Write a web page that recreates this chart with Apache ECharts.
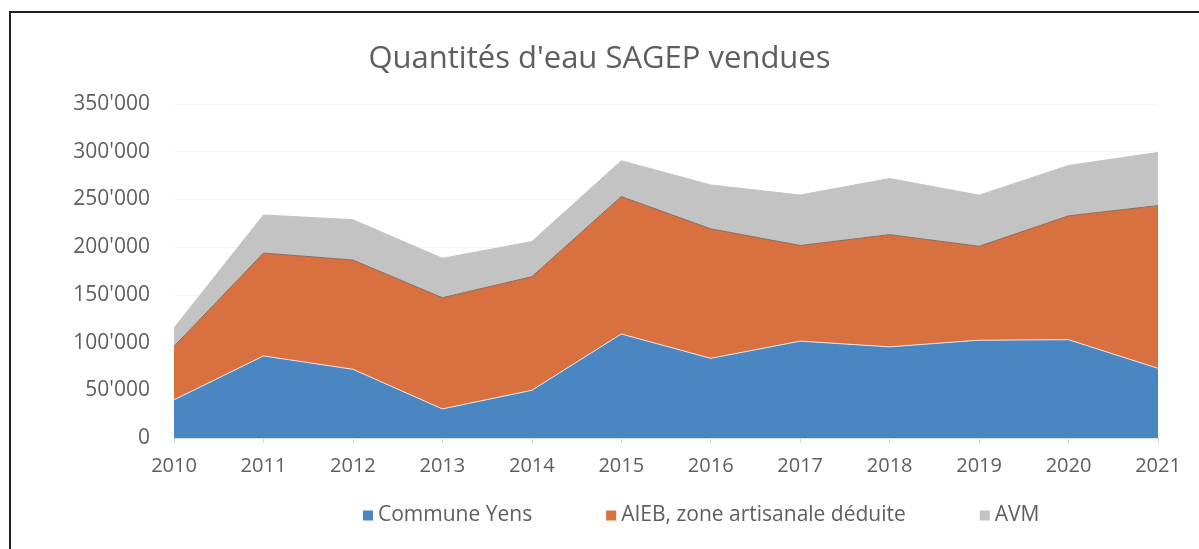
<!DOCTYPE html>
<html>
<head>
<meta charset="utf-8">
<script src="https://cdn.jsdelivr.net/npm/echarts@6/dist/echarts.min.js"></script>
<style>
  html, body { margin: 0; padding: 0; background: #fff; }
  #frame { position: absolute; left: 9px; top: 11px; width: 1200px; height: 560px;
           border-top: 2px solid #222; border-left: 2px solid #222; }
  #chart { position: absolute; left: 0; top: 0; width: 1199px; height: 549px; }
</style>
</head>
<body>
<div id="frame"></div>
<div id="chart"></div>
<script>
var years = ['2010', '2011', '2012', '2013', '2014', '2015', '2016', '2017', '2018', '2019', '2020', '2021'];
var communeYens = [40000, 86000, 72000, 30500, 50000, 109000, 83500, 101500, 95500, 102500, 103000, 73000];
var aieb = [56000, 107800, 114500, 116500, 119000, 144000, 135700, 100200, 117600, 98400, 129800, 170500];
var avm = [19300, 39900, 42300, 41300, 36800, 37500, 46000, 52900, 58800, 53600, 52800, 55700];

function fmt(v) {
  return String(v).replace(/\B(?=(\d{3})+(?!\d))/g, "'");
}

var chart = echarts.init(document.getElementById('chart'));
var textColor = '#5e5e5e';
var fontFam = '"Open Sans", "DejaVu Sans", sans-serif';

function areaSeries(name, data, color, lineColor) {
  return {
    name: name,
    type: 'line',
    stack: 'total',
    data: data,
    symbol: 'none',
    lineStyle: { width: 1, color: lineColor },
    itemStyle: { color: color },
    areaStyle: { color: color, opacity: 1 }
  };
}

chart.setOption({
  animation: false,
  title: {
    text: "Quantités d'eau SAGEP vendues",
    left: 'center',
    top: 39,
    textStyle: { color: textColor, fontSize: 31, fontWeight: 'normal', fontFamily: fontFam }
  },
  legend: {
    top: 500,
    left: 358,
    itemGap: 74,
    itemWidth: 10,
    itemHeight: 10,
    icon: 'rect',
    textStyle: { color: textColor, fontSize: 21, fontFamily: fontFam },
    data: ['Commune Yens', 'AIEB, zone artisanale déduite', 'AVM']
  },
  grid: { left: 174, right: 41, top: 104, bottom: 111 },
  xAxis: {
    type: 'category',
    data: years,
    boundaryGap: false,
    axisLine: { lineStyle: { color: '#d9d9d9' } },
    axisTick: { show: true, lineStyle: { color: '#d9d9d9' } },
    axisLabel: { color: textColor, fontSize: 20, fontFamily: fontFam, margin: 18 }
  },
  yAxis: {
    type: 'value',
    min: 0,
    max: 350000,
    interval: 50000,
    axisLine: { show: false },
    axisTick: { show: false },
    splitLine: { lineStyle: { color: '#ececec', type: 'dotted' } },
    axisLabel: { color: textColor, fontSize: 21, fontFamily: fontFam, margin: 24, formatter: fmt }
  },
  series: [
    areaSeries('Commune Yens', communeYens, '#4a87c2', '#f2e4df'),
    areaSeries('AIEB, zone artisanale déduite', aieb, '#d8703f', '#8a6a5a'),
    areaSeries('AVM', avm, '#c3c3c3', '#c3c3c3')
  ]
});
</script>
</body>
</html>
